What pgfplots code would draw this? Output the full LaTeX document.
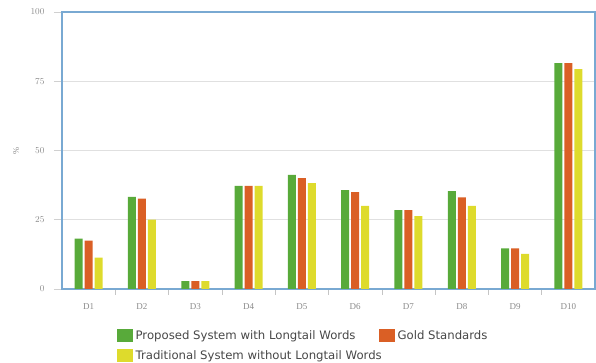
\documentclass[border=0pt]{standalone}
\usepackage{fontspec}
\setmainfont{Liberation Serif}
\newfontfamily\legfont{DejaVu Sans}
\usepackage{pgfplots}
\pgfplotsset{compat=1.18}

\definecolor{barGreen}{HTML}{58AA3A}
\definecolor{barOrange}{HTML}{DA5F25}
\definecolor{barYellow}{HTML}{DEDB2C}
\definecolor{frameBlue}{HTML}{79A9D2}
\definecolor{tickGray}{HTML}{8A8A8A}

\pgfplotsset{
  squarelegend/.style={
    legend image code/.code={\fill[##1] (0pt,-6.5pt) rectangle (16pt,6.5pt);}
  }
}

\begin{document}
\begin{tikzpicture}[x=1pt,y=1pt]
\useasboundingbox (0,0) rectangle (596,363);
\begin{axis}[
  at={(62pt,74pt)}, anchor=south west,
  scale only axis, width=533pt, height=277pt,
  xmin=0.5, xmax=10.5, ymin=0, ymax=100,
  ybar=2pt, bar width=8pt,
  xtick={1,...,10},
  xticklabels={D1,D2,D3,D4,D5,D6,D7,D8,D9,D10},
  xtick pos=bottom, ytick pos=left,
  major x tick style={draw=none},
  minor xtick={1.5,2.5,...,9.5},
  minor tick length=6pt,
  minor x tick style={tickGray!50, line width=0.6pt},
  ytick={0,25,50,75,100},
  major y tick style={tickGray!40, line width=0.8pt},
  major tick length=8pt,
  tick align=outside,
  ymajorgrids,
  grid style={black!12, line width=1pt},
  axis line style={frameBlue, line width=1.3pt},
  tick label style={tickGray, font=\fontsize{9}{10}\selectfont},
  xticklabel style={yshift=-3pt},
  yticklabel style={xshift=-6pt},
  ylabel={\%},
  ylabel style={tickGray, font=\fontsize{8.5}{10}\selectfont, at={(rel axis cs:0,0.5)}, anchor=center, yshift=46pt},
  squarelegend,
  legend columns=2,
  legend cell align=left,
  legend style={
    draw=none, fill=none, inner sep=0pt,
    at={(0.103,-0.141)}, anchor=north west,
    font=\legfont\fontsize{11.7}{13}\selectfont,
    text=black!72,
    nodes={inner sep=2.5pt},
    /tikz/every even column/.append style={column sep=21pt},
    row sep=4.5pt,
  },
]
% Proposed system with longtail words
\addplot[fill=barGreen, draw=none] coordinates {
  (1,18.2) (2,33.3) (3,2.8) (4,37.2) (5,41.2)
  (6,35.7) (7,28.5) (8,35.3) (9,14.7) (10,81.5)};
% Gold standards
\addplot[fill=barOrange, draw=none] coordinates {
  (1,17.5) (2,32.6) (3,2.8) (4,37.2) (5,40.0)
  (6,35.0) (7,28.5) (8,33.1) (9,14.7) (10,81.5)};
% Traditional system without longtail words
\addplot[fill=barYellow, draw=none] coordinates {
  (1,11.3) (2,25.0) (3,2.8) (4,37.2) (5,38.2)
  (6,30.0) (7,26.3) (8,30.0) (9,12.7) (10,79.4)};
\legend{Proposed System with Longtail Words, Gold Standards,
        \rlap{Traditional System without Longtail Words}}
\end{axis}
\end{tikzpicture}
\end{document}
